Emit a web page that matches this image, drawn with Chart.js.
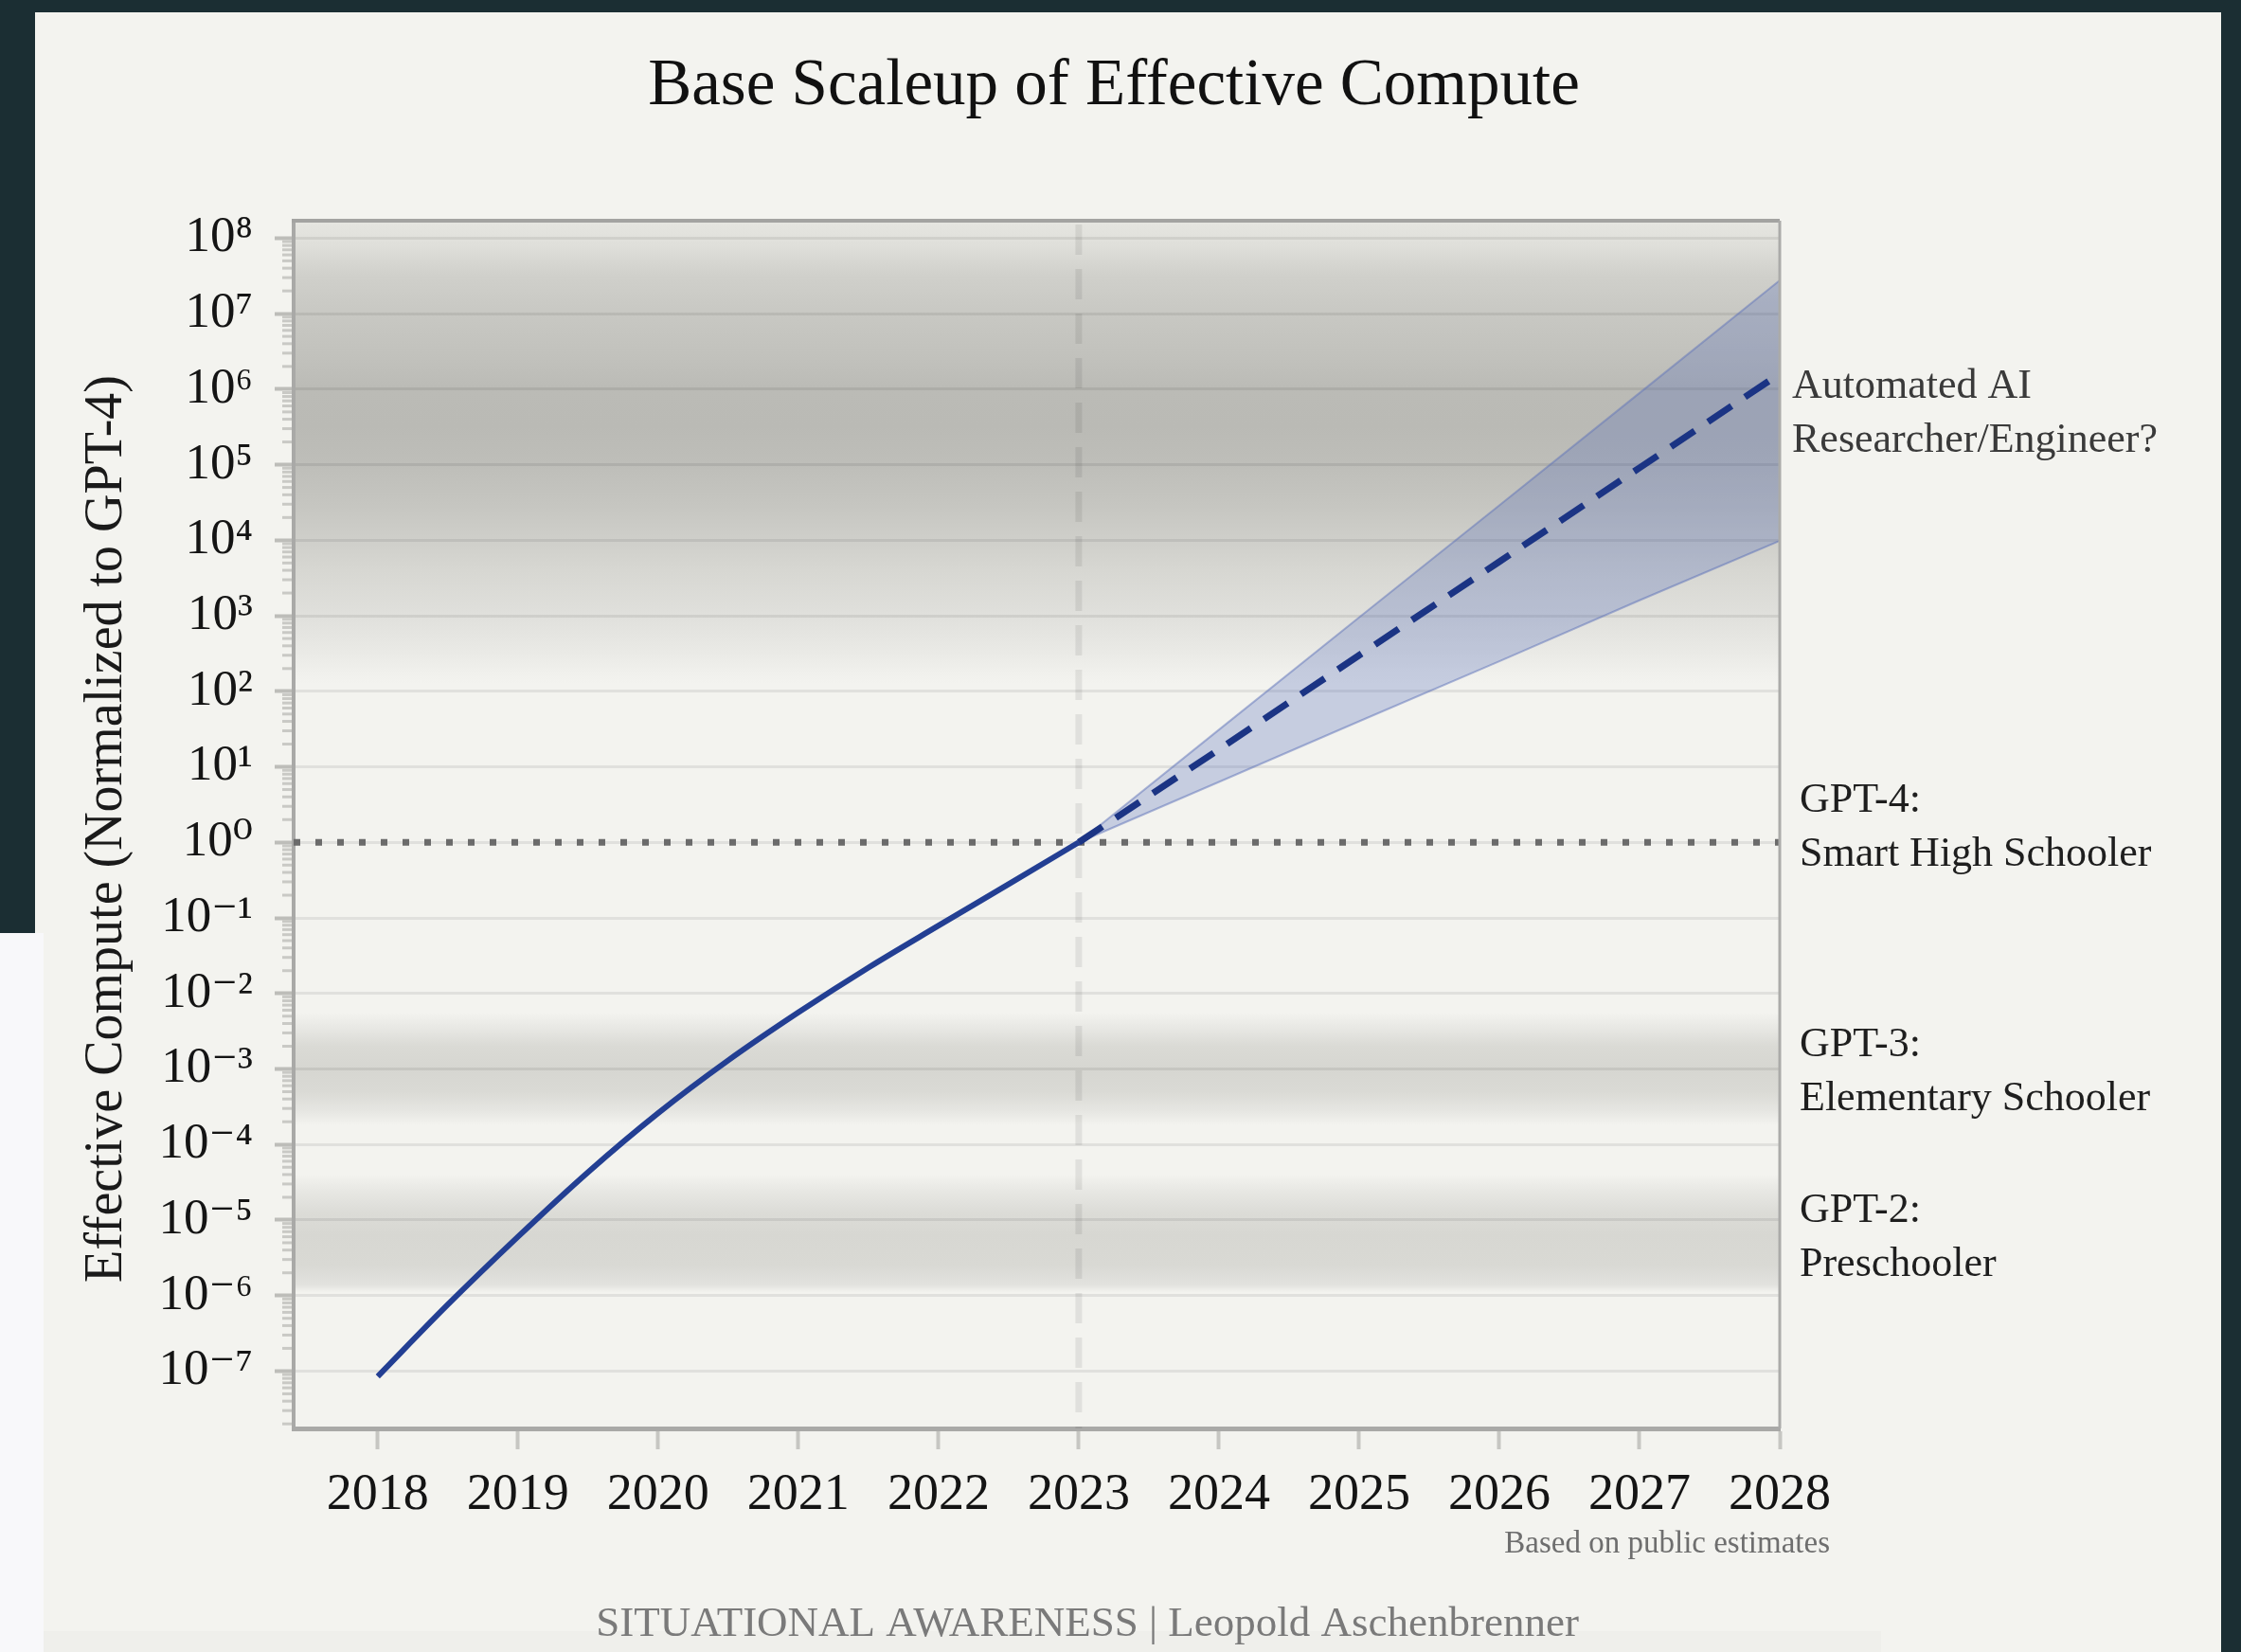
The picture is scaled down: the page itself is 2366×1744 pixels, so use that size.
<!DOCTYPE html>
<html>
<head>
<meta charset="utf-8">
<title>Base Scaleup of Effective Compute</title>
<script src="https://cdn.jsdelivr.net/npm/chart.js@4.4.1/dist/chart.umd.min.js"></script>
<style>
  html, body { margin: 0; padding: 0; background: #1b2e33; }
  canvas { display: block; }
</style>
</head>
<body>
<canvas id="chart" width="2366" height="1744"></canvas>
<script>
// Data
const histYears = [2018, 2018.5, 2019, 2019.5, 2020, 2020.5, 2021, 2021.5, 2022, 2022.5, 2023];
const histCompute = [8.5e-8, 7.6e-7, 6.0e-6, 4.3e-5, 2.6e-4, 1.3e-3, 5.6e-3, 2.2e-2, 7.9e-2, 2.8e-1, 1];

const projYears = [2023, 2024, 2025, 2026, 2027, 2028];
const projMedian = [1, 17, 300, 5.2e3, 9.1e4, 1.6e6];
const projHigh = [1, 31, 950, 2.9e4, 8.9e5, 2.75e7];
const projLow = [1, 6.3, 40, 250, 1.6e3, 9.8e3];

const gpt4Level = 1;
const xTicks = [2018, 2019, 2020, 2021, 2022, 2023, 2024, 2025, 2026, 2027, 2028];
const yTickValues = [1e-7, 1e-6, 1e-5, 1e-4, 1e-3, 1e-2, 1e-1, 1, 1e1, 1e2, 1e3, 1e4, 1e5, 1e6, 1e7, 1e8];
const yTickLabels = ['10⁻⁷', '10⁻⁶', '10⁻⁵', '10⁻⁴', '10⁻³', '10⁻²', '10⁻¹', '10⁰',
                     '10¹', '10²', '10³', '10⁴', '10⁵', '10⁶', '10⁷', '10⁸'];
const xMin = 2017.4, xMax = 2028;
const yMin = 1.74e-8, yMax = 1.7e8;
const forecastStart = 2023;

// grey shading behind the plot: [value, colour], top to bottom
const shading = [
  [1.7e8, '#e6e6e1'], [8e7, '#dfdfda'], [3.2e7, '#d0d0cb'], [1e7, '#c8c8c3'],
  [2.5e6, '#c1c1bc'], [1e6, '#bbbbb6'], [3.2e5, '#babab5'], [1e5, '#bebeb9'],
  [2.8e4, '#c6c6c1'], [1e4, '#cfcfca'], [4e3, '#d7d7d2'], [1e3, '#e0e0dc'],
  [400, '#e8e8e4'], [180, '#f0f0ec'], [125, '#f3f3ef'],
  [5.6e-3, '#f3f3ef'], [3.5e-3, '#e8e8e4'], [2e-3, '#dadad5'], [1e-3, '#d6d6d1'],
  [5e-4, '#dadad5'], [2.8e-4, '#e6e6e2'], [1.8e-4, '#f3f3ef'],
  [4e-5, '#f3f3ef'], [2.5e-5, '#e8e8e4'], [1.25e-5, '#dcdcd7'], [6.3e-6, '#d7d7d2'],
  [2.5e-6, '#d9d9d4'], [1.4e-6, '#e2e2de'], [1.1e-6, '#f3f3ef'], [1.74e-8, '#f3f3ef']
];

const serif = '"Liberation Serif", "DejaVu Serif", serif';

const rightNotes = [
  { lines: ['Automated AI', 'Researcher/Engineer?'], x: 1892, y: 420, color: '#3a3a3a' },
  { lines: ['GPT-4:', 'Smart High Schooler'], x: 1900, y: 857, color: '#1e1e1e' },
  { lines: ['GPT-3:', 'Elementary Schooler'], x: 1900, y: 1115, color: '#1e1e1e' },
  { lines: ['GPT-2:', 'Preschooler'], x: 1900, y: 1290, color: '#1e1e1e' }
];

const toPoints = (xs, ys) => xs.map((x, i) => ({ x: x, y: ys[i] }));

const decor = {
  id: 'decor',
  beforeDraw(chart) {
    const { ctx, chartArea: a, scales } = chart;
    const W = chart.width, H = chart.height;
    ctx.save();
    // page backdrop
    ctx.fillStyle = '#1b2e33';
    ctx.fillRect(0, 0, W, H);
    ctx.fillStyle = '#f3f3ef';
    ctx.fillRect(37, 13, 2308, H - 13);
    ctx.fillStyle = '#f8f8fa';
    ctx.fillRect(0, 985, 46, H - 985);
    ctx.fillStyle = '#efefeb';
    ctx.fillRect(46, 1722, 1940, H - 1722);

    // level shading
    const g = ctx.createLinearGradient(0, a.top, 0, a.bottom);
    shading.forEach(([v, c]) => {
      const p = (scales.y.getPixelForValue(v) - a.top) / (a.bottom - a.top);
      g.addColorStop(Math.min(1, Math.max(0, p)), c);
    });
    ctx.fillStyle = g;
    ctx.fillRect(a.left, a.top, a.right - a.left, a.bottom - a.top);
    ctx.restore();
  },
  beforeDatasetsDraw(chart) {
    const { ctx, chartArea: a, scales } = chart;
    const x = scales.x.getPixelForValue(forecastStart);
    ctx.save();
    ctx.strokeStyle = 'rgba(0,0,0,0.075)';
    ctx.lineWidth = 7;
    ctx.setLineDash([32, 15]);
    ctx.beginPath();
    ctx.moveTo(x, a.top + 4);
    ctx.lineTo(x, a.bottom);
    ctx.stroke();
    ctx.restore();
  },
  afterDraw(chart) {
    const { ctx, chartArea: a, scales } = chart;
    ctx.save();
    // top and right frame
    ctx.strokeStyle = '#a3a3a1';
    ctx.lineWidth = 4;
    ctx.beginPath();
    ctx.moveTo(a.left - 2, a.top);
    ctx.lineTo(a.right, a.top);
    ctx.stroke();
    ctx.strokeStyle = '#ababa9';
    ctx.lineWidth = 3;
    ctx.beginPath();
    ctx.moveTo(a.right, a.top);
    ctx.lineTo(a.right, a.bottom);
    ctx.stroke();

    // minor log ticks on the y axis
    ctx.strokeStyle = '#c9c9c5';
    ctx.lineWidth = 3;
    for (let e = -8; e <= 8; e++) {
      for (let k = 2; k <= 9; k++) {
        const v = k * Math.pow(10, e);
        if (v < yMin || v > yMax) continue;
        const py = scales.y.getPixelForValue(v);
        ctx.beginPath();
        ctx.moveTo(a.left - 12, py);
        ctx.lineTo(a.left - 2, py);
        ctx.stroke();
      }
    }

    // title
    ctx.fillStyle = '#111111';
    ctx.font = '69px ' + serif;
    ctx.textAlign = 'center';
    ctx.textBaseline = 'alphabetic';
    ctx.fillText('Base Scaleup of Effective Compute', 1176, 110);

    // y axis title
    ctx.save();
    ctx.translate(113, 875);
    ctx.rotate(-Math.PI / 2);
    ctx.font = '56px ' + serif;
    ctx.textBaseline = 'middle';
    ctx.fillStyle = '#1a1a1a';
    ctx.fillText('Effective Compute (Normalized to GPT-4)', 0, 0);
    ctx.restore();

    // level notes on the right
    ctx.textAlign = 'left';
    ctx.font = '44px ' + serif;
    rightNotes.forEach(n => {
      ctx.fillStyle = n.color;
      n.lines.forEach((t, i) => ctx.fillText(t, n.x, n.y + i * 57));
    });

    // source and credit
    ctx.font = '33px ' + serif;
    ctx.fillStyle = '#6e6e6e';
    ctx.textAlign = 'right';
    ctx.fillText('Based on public estimates', 1932, 1639);
    ctx.font = '45px ' + serif;
    ctx.fillStyle = '#7a7a7a';
    ctx.textAlign = 'center';
    ctx.fillText('SITUATIONAL AWARENESS | Leopold Aschenbrenner', 1148, 1727);
    ctx.restore();
  }
};

new Chart(document.getElementById('chart'), {
  type: 'line',
  data: {
    datasets: [
      {
        label: 'Historical',
        data: toPoints(histYears, histCompute),
        borderColor: '#233f93',
        borderWidth: 6,
        cubicInterpolationMode: 'monotone',
        fill: false
      },
      {
        label: 'Projection',
        data: toPoints(projYears, projMedian),
        borderColor: '#1b3484',
        borderWidth: 7,
        borderDash: [30, 17],
        tension: 0,
        fill: false
      },
      {
        label: 'Upper estimate',
        data: toPoints(projYears, projHigh),
        borderColor: 'rgba(95,115,185,0.5)',
        borderWidth: 2,
        backgroundColor: 'rgba(70,95,180,0.26)',
        fill: '+1',
        tension: 0
      },
      {
        label: 'Lower estimate',
        data: toPoints(projYears, projLow),
        borderColor: 'rgba(95,115,185,0.5)',
        borderWidth: 2,
        fill: false,
        tension: 0
      },
      {
        label: 'GPT-4 level',
        data: [{ x: xMin, y: gpt4Level }, { x: xMax, y: gpt4Level }],
        borderColor: '#6b6b6b',
        borderWidth: 7,
        borderDash: [7, 16],
        borderCapStyle: 'butt',
        fill: false
      }
    ]
  },
  options: {
    responsive: false,
    animation: false,
    devicePixelRatio: 1,
    layout: { padding: { left: 0, top: 233, right: 487, bottom: 0 } },
    elements: { point: { radius: 0 } },
    plugins: {
      legend: { display: false },
      tooltip: { enabled: false }
    },
    scales: {
      x: {
        type: 'linear',
        min: xMin,
        max: xMax,
        afterBuildTicks: s => { s.ticks = xTicks.map(v => ({ value: v })); },
        afterFit: s => { s.height = 236; },
        grid: { drawOnChartArea: false, tickLength: 22, tickColor: '#c6c6c2', tickWidth: 4 },
        border: { color: '#a9a9a7', width: 5 },
        ticks: {
          autoSkip: false,
          maxRotation: 0,
          padding: 16,
          color: '#141414',
          font: { family: serif, size: 54 },
          callback: v => String(v)
        }
      },
      y: {
        type: 'logarithmic',
        min: yMin,
        max: yMax,
        afterBuildTicks: s => { s.ticks = yTickValues.map(v => ({ value: v })); },
        afterFit: s => { s.width = 310; },
        grid: { color: 'rgba(0,0,0,0.075)', lineWidth: 3, tickLength: 20, tickColor: '#bdbdb9', tickWidth: 4 },
        border: { color: '#a9a9a7', width: 4 },
        ticks: {
          autoSkip: false,
          padding: 23,
          color: '#141414',
          font: { family: serif, size: 53 },
          callback: (v, i) => yTickLabels[i]
        }
      }
    }
  },
  plugins: [decor]
});
</script>
</body>
</html>
